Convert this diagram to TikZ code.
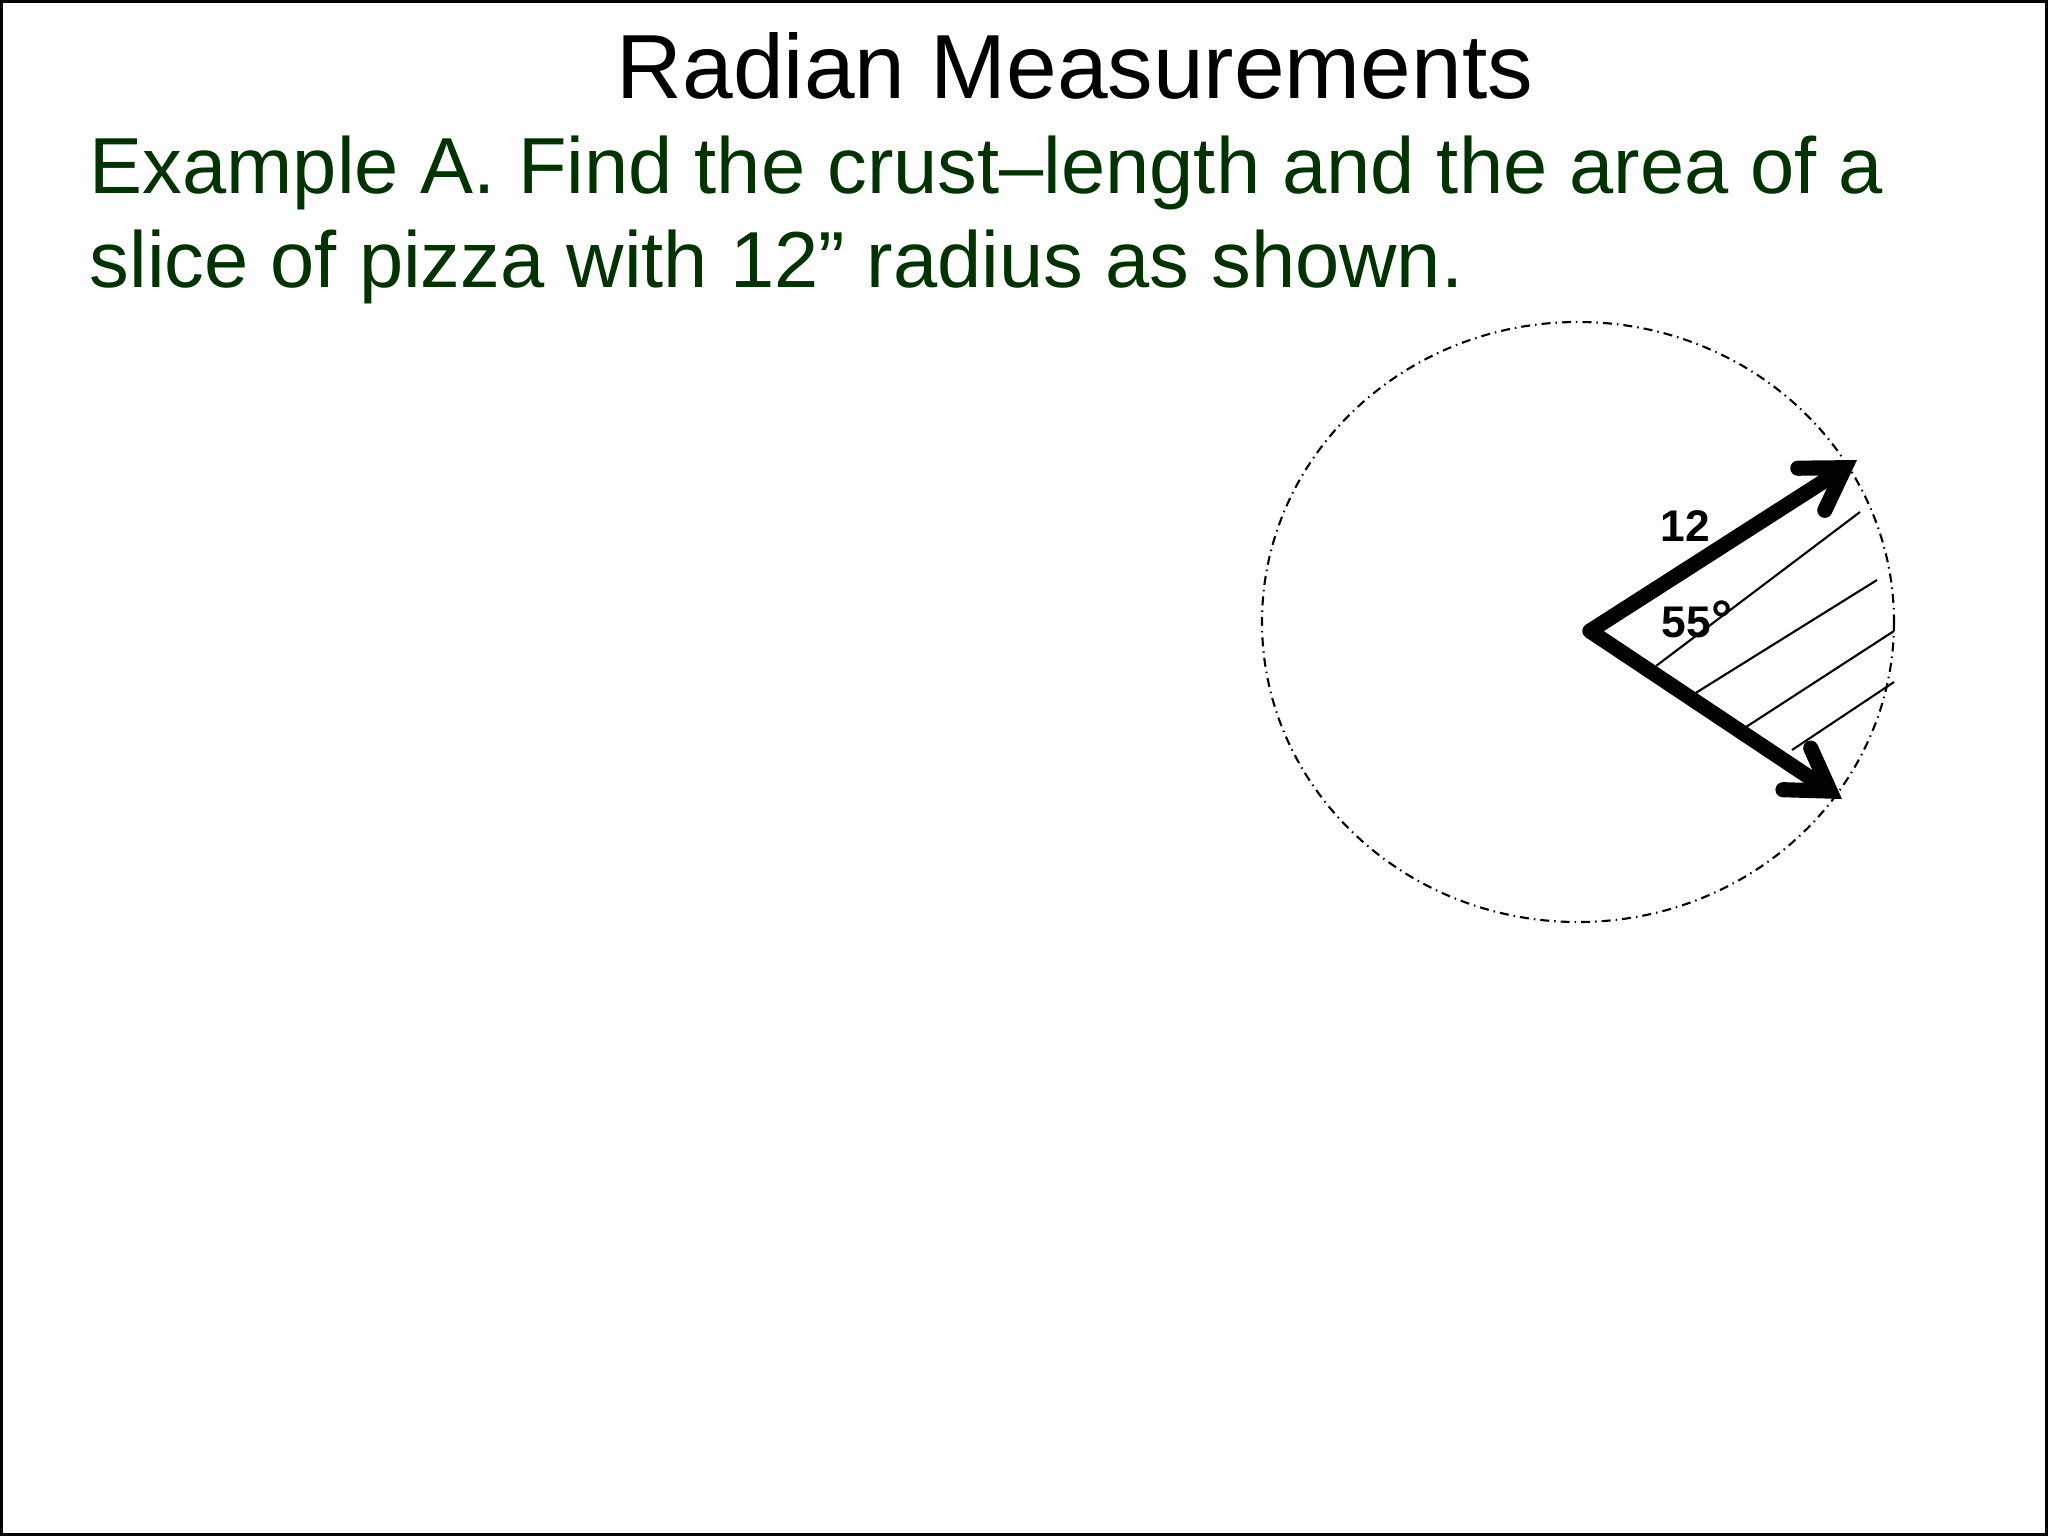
\documentclass[tikz,border=0pt]{standalone}
\usepackage{fontspec}
\setmainfont{Liberation Sans}
\usetikzlibrary{arrows.meta}
\definecolor{slidegreen}{RGB}{0,51,0}

\begin{document}
\begin{tikzpicture}[
		x=0.01cm,y=-0.01cm,
		titletext/.style={font=\fontsize{25.9}{30}\selectfont,anchor=base},
		bodytext/.style={font=\fontsize{22.6}{26.7}\selectfont,text=slidegreen,anchor=base west,inner sep=0pt},
		sidearrow/.style={line width=4.3pt,line cap=round,-{Straight Barb[length=0.4cm,width=0.5cm,line cap=round]}},
		hatch/.style={line width=0.6pt},
		crust/.style={line width=0.6pt,dash pattern=on 0.09cm off 0.05cm on 0.015cm off 0.05cm},
		numlabel/.style={font=\bfseries\fontsize{12.6}{15}\selectfont}
		]
		\useasboundingbox (0,0) rectangle (2048,1536);
		\draw[line width=0.8pt] (1.5,1.5) rectangle (2046.5,1534.5);
		% title and text
		\node[titletext] (title) at (1075,98) {Radian Measurements};
		\node[bodytext] (lineone) at (89,193) {Example A. Find the crust--length and the area of a};
		\node[bodytext] (linetwo) at (89,287) {slice of pizza with 12” radius as shown.};
		% the pizza
		\draw[crust] (1578,622) ellipse [x radius=316,y radius=300];
		\coordinate (center) at (1590,631);
		\coordinate (uppertip) at (1857,460);
		\coordinate (lowertip) at (1842,799);
		\foreach \xa/\ya/\xb/\yb in {1656/666/1860/512,1694/694/1877/580,1746/727/1894/631,1792/750/1894/682}
			\draw[hatch] (\xa,\ya) -- (\xb,\yb);
		\draw[sidearrow] (center) -- (uppertip);
		\draw[sidearrow] (center) -- (lowertip);
		\node[numlabel] (radius) at (1685,526) {12};
		\node[numlabel] (angle) at (1697,619) {55{\fontsize{15}{15}\selectfont°}};
	\end{tikzpicture}
\end{document}
